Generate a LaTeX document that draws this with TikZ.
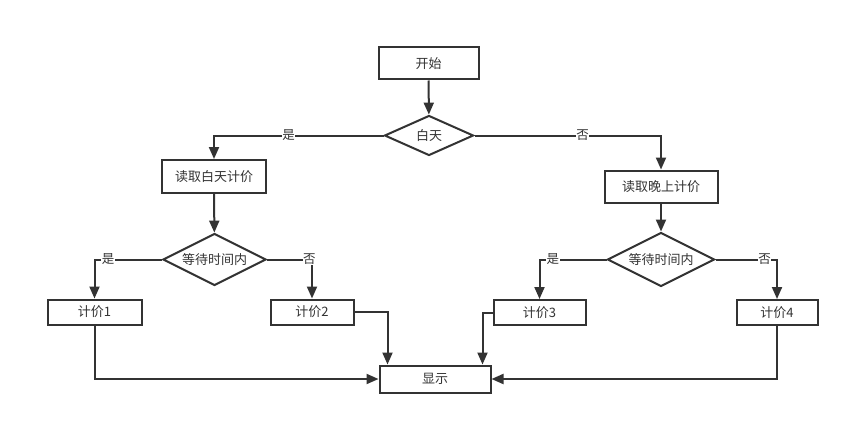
\documentclass[tikz,border=0pt]{standalone}
\usepackage{fontspec}
\setmainfont{Noto Sans CJK SC}
\usetikzlibrary{shapes.geometric,arrows.meta,positioning,calc}
\definecolor{ink}{HTML}{333333}
\begin{document}
\begin{tikzpicture}[x=1pt,y=-1pt,
  every node/.style={text=ink,font=\fontsize{13pt}{15pt}\selectfont},
  box/.style={draw=ink,line width=2pt,rectangle,inner sep=0pt,fill=white},
  dia/.style={draw=ink,line width=2pt,diamond,aspect=2,inner sep=0pt,fill=white},
  flow/.style={draw=ink,line width=2pt,-{Triangle[length=12pt,width=10pt]}},
  lbl/.style={fill=white,inner sep=0.5pt,font=\fontsize{12.5pt}{14pt}\selectfont}]
\useasboundingbox[fill=white] (0,0) rectangle (850,425);
\node[box,minimum width=100pt,minimum height=32pt] (start) at (428.5,63.5) {开始};
\node[dia,minimum width=89pt,minimum height=40pt] (d1) at (429,135.5) {白天};
\node[box,minimum width=104pt,minimum height=33pt] (r1) at (214,176.5) {读取白天计价};
\node[box,minimum width=113pt,minimum height=32pt] (r2) at (661,186.5) {读取晚上计价};
\node[dia,minimum width=103pt,minimum height=52pt] (d2) at (214.5,259.5) {等待时间内};
\node[dia,minimum width=107pt,minimum height=54pt] (d3) at (661,259.5) {等待时间内};
\node[box,minimum width=94pt,minimum height=25pt] (p1) at (94.5,312) {计价1};
\node[box,minimum width=83pt,minimum height=25pt] (p2) at (312,312) {计价2};
\node[box,minimum width=92pt,minimum height=25pt] (p3) at (539.5,312.5) {计价3};
\node[box,minimum width=81pt,minimum height=25pt] (p4) at (777,312.5) {计价4};
\node[box,minimum width=111pt,minimum height=27pt] (show) at (435,379) {显示};
\coordinate (s2) at ([xshift=9pt]show.north west);
\coordinate (s3) at ([xshift=-9pt]show.north east);
\draw[flow] (start) -- (d1);
\draw[flow] (d1.west) -| node[lbl,pos=0.28] {是} (r1.north);
\draw[flow] (d1.east) -| node[lbl,pos=0.29] {否} (r2.north);
\draw[flow] (r1) -- (d2);
\draw[flow] (r2) -- (d3);
\draw[flow] (d2.west) -| node[lbl,pos=0.40] {是} (p1.north);
\draw[flow] (d2.east) -| node[lbl,pos=0.47] {否} (p2.north);
\draw[flow] (d3.west) -| node[lbl,pos=0.40] {是} (p3.north);
\draw[flow] (d3.east) -| node[lbl,pos=0.40] {否} (p4.north);
\draw[flow] (p1.south) |- (show.west);
\draw[flow] (p4.south) |- (show.east);
\draw[flow] (p2.east) -| (s2);
\draw[flow] (p3.west) -| (s3);
\end{tikzpicture}
\end{document}
